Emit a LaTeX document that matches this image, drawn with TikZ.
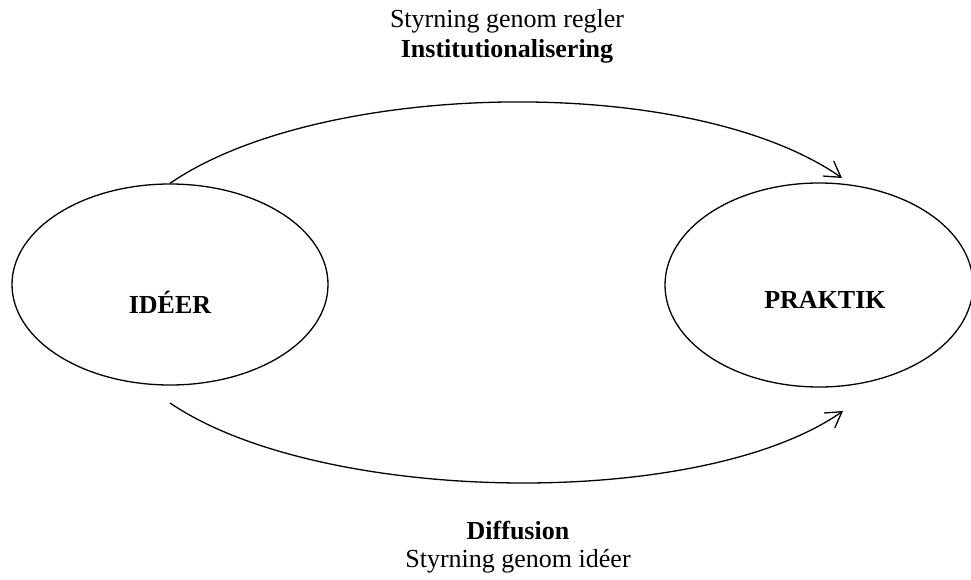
\documentclass[tikz,border=0pt]{standalone}
\usepackage{fontspec}
\setmainfont{Liberation Serif}
\usetikzlibrary{arrows.meta,shapes.geometric}
\begin{document}
\begin{tikzpicture}[x=1pt,y=-1pt,
  ell/.style={draw, ellipse, line width=1.3pt, inner sep=0pt},
  lbl/.style={anchor=base, inner sep=0pt, font=\fontsize{26}{31}\selectfont},
  blbl/.style={lbl, font=\fontsize{26}{31}\selectfont\bfseries},
  flow/.style={line width=1.3pt, -{Straight Barb[length=15pt,width=18pt,line cap=round]}}]
\useasboundingbox (0,0) rectangle (971,580);
\node[ell, minimum width=316pt, minimum height=201pt] (ideer) at (170,284.5) {};
\node[ell, minimum width=308pt, minimum height=204pt] (praktik) at (819,285) {};
\node[blbl] (ideertxt) at (170,313) {IDÉER};
\node[blbl] (praktiktxt) at (825,308) {PRAKTIK};
\node[lbl] (t1) at (507,28) {Styrning genom regler};
\node[blbl] (t2) at (507,58) {Institutionalisering};
\node[blbl] (b1) at (518,539) {Diffusion};
\node[lbl] (b2) at (518,567) {Styrning genom idéer};
\coordinate (upend) at (842,178);
\coordinate (lostart) at (170,403);
\coordinate (loend) at (843,411);
\draw[flow] (ideer.north) .. controls (320,80) and (690,72) .. (upend);
\draw[flow] (lostart) .. controls (320,505) and (700,511) .. (loend);
\end{tikzpicture}
\end{document}
